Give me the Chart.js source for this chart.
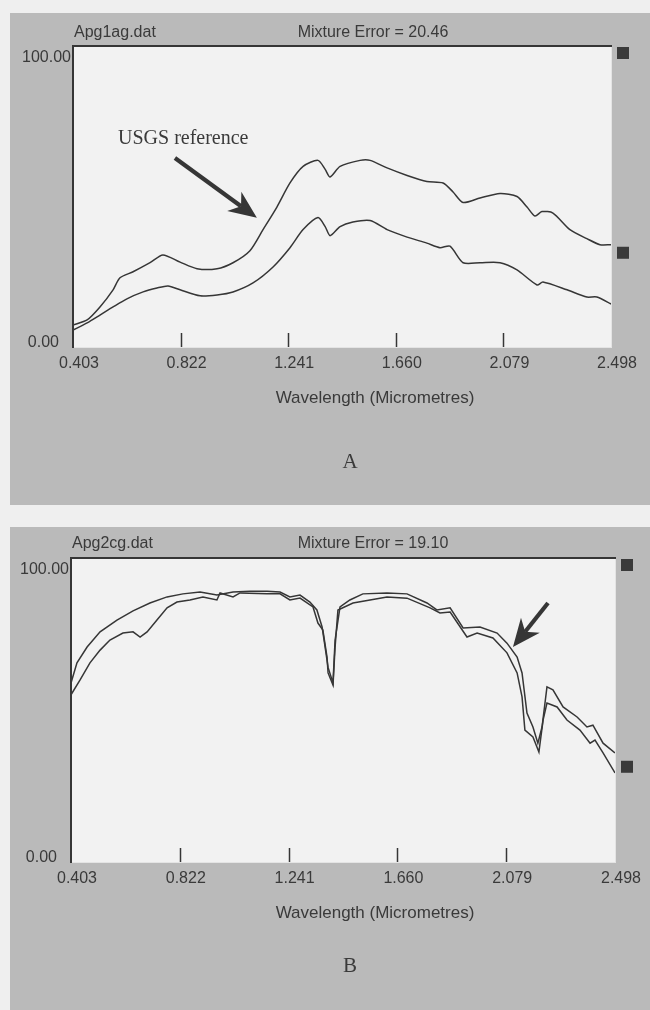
<!DOCTYPE html>
<html><head><meta charset="utf-8">
<script src="https://cdn.jsdelivr.net/npm/chart.js@4.4.1/dist/chart.umd.min.js"></script>
<style>
html,body{margin:0;padding:0;background:#efefef;width:650px;height:1010px;overflow:hidden;position:relative;}
.panel{position:absolute;left:10px;width:640px;background:#bababa;}
#pA{top:13px;height:492px;}
#pB{top:527px;height:483px;}
canvas{position:absolute;left:0;}
.t{position:absolute;font-family:"Liberation Sans",Arial,sans-serif;font-size:16px;color:#3a3a3a;white-space:nowrap;line-height:1;}
.c{transform:translateX(-50%);}
.serif{font-family:"Liberation Serif","Times New Roman",serif;}
</style></head>
<body>
<div class="panel" id="pA"></div>
<div class="panel" id="pB"></div>
<canvas id="cA" width="650" height="505" style="top:0"></canvas>
<canvas id="cB" width="650" height="483" style="top:527px"></canvas>

<div class="t" style="left:74px;top:24px;">Apg1ag.dat</div>
<div class="t c" style="left:373px;top:24px;">Mixture Error = 20.46</div>
<div class="t c" style="left:375px;top:389px;font-size:17px;">Wavelength (Micrometres)</div>
<div class="t c serif" style="left:350px;top:451px;font-size:21px;">A</div>
<div class="t serif" style="left:118px;top:127px;font-size:20px;">USGS reference</div>

<div class="t" style="left:72px;top:535px;">Apg2cg.dat</div>
<div class="t c" style="left:373px;top:535px;">Mixture Error = 19.10</div>
<div class="t c" style="left:375px;top:904px;font-size:17px;">Wavelength (Micrometres)</div>
<div class="t c serif" style="left:350px;top:955px;font-size:21px;">B</div>

<script>
// ---- Data ----
const xTicks = [0.403, 0.822, 1.241, 1.660, 2.079, 2.498];
const yTicks = [0, 100];

// Panel A: USGS reference spectrum
const aRefWl  = [0.403,0.458,0.508,0.559,0.586,0.637,0.703,0.753,0.820,0.886,0.964,1.026,1.092,1.143,1.197,1.248,1.299,1.357,1.385,1.404,1.443,1.521,1.560,1.626,1.704,1.781,1.844,1.883,1.922,1.988,2.066,2.132,2.171,2.202,2.229,2.272,2.338,2.404,2.455,2.498];
const aRefVal = [7.3,9,13.3,19,23,25,28,30.6,28.2,26,26,28,32,39,46.5,54.5,60,62,59,56.5,60,62,62,59.5,57,55,54.5,51.5,48,49.5,51,50,46.5,43.5,45,44.5,39,36,34,34];
// Panel A: mixture spectrum
const aMixWl  = [0.403,0.458,0.508,0.559,0.613,0.676,0.730,0.773,0.820,0.898,0.964,1.026,1.104,1.182,1.248,1.299,1.357,1.385,1.404,1.443,1.493,1.560,1.626,1.704,1.781,1.832,1.871,1.922,1.988,2.066,2.132,2.210,2.233,2.327,2.404,2.443,2.498];
const aMixVal = [5.6,8,10.6,13.3,16,18.3,19.6,20.3,19,17,17.3,18.3,21.3,26.6,33,39,43,40,37,40,41.5,42,39,36.5,34.5,33,33.5,28,28,28,25.6,20.6,21.6,19,16.6,16.6,14.3];

// Panel B: reference spectrum
const bRefWl  = [0.403,0.426,0.465,0.515,0.580,0.642,0.707,0.773,0.834,0.900,0.965,1.027,1.092,1.158,1.208,1.246,1.285,1.323,1.350,1.370,1.381,1.393,1.412,1.420,1.439,1.477,1.527,1.620,1.697,1.774,1.812,1.863,1.913,1.978,2.044,2.082,2.121,2.140,2.159,2.182,2.201,2.217,2.236,2.259,2.298,2.352,2.390,2.413,2.452,2.498];
const bRefVal = [58.9,65.5,70.7,75.7,79.6,82.6,85.2,87.2,88.2,88.8,87.8,88.8,89.1,89.1,88.8,87.2,87.8,85.5,82.9,77.3,71,64,58.9,73,83.9,86.2,88.2,88.5,88.2,85.2,82.9,83.6,77,77.3,75.3,72,67.4,62.2,49,44.4,39.1,44.4,57.6,56.6,51,47.7,44.4,45,39.1,35.9];
// Panel B: mixture spectrum
const bMixWl  = [0.403,0.438,0.476,0.515,0.553,0.603,0.642,0.669,0.696,0.734,0.773,0.811,0.861,0.911,0.965,0.977,1.027,1.054,1.158,1.208,1.246,1.285,1.335,1.354,1.373,1.389,1.393,1.412,1.420,1.431,1.489,1.620,1.697,1.786,1.824,1.863,1.928,1.967,2.028,2.082,2.121,2.140,2.151,2.182,2.205,2.221,2.236,2.275,2.313,2.363,2.402,2.421,2.452,2.498];
const bMixVal = [55,59.9,65.5,69.7,73,75.3,75.7,74,75.7,79.6,83.6,85.5,86.2,87.2,86.2,88.5,87.2,88.5,88.2,88.2,86.2,86.8,83.9,78.6,76.3,67.4,62.2,58.2,70.7,82.9,85.2,87.2,86.8,83.6,81.9,82.2,74,75.3,73.7,68.8,62.2,54.3,43.4,41.1,36.2,46.7,52.3,51,46.7,43.4,39.1,40.1,35.9,29.3];

// Annotation arrows in data units: [tailWl, tailVal, tipWl, tipVal]
const arrowA = [0.800, 62.8, 1.119, 42.9];
const arrowB = [2.240, 85.2, 2.105, 70.7];
const markerVals = [100, 33.3];

const pts = (xs, ys) => xs.map((x, i) => ({x, y: ys[i]}));
const INK = '#363636';
const FONT = '"Liberation Sans", Arial, sans-serif';

function drawArrow(ctx, x1, y1, x2, y2) {
  const ang = Math.atan2(y2 - y1, x2 - x1);
  const hl = 28, hw = 12;
  const cos = Math.cos(ang), sin = Math.sin(ang);
  const bx = x2 - hl * cos, by = y2 - hl * sin;
  const nx = x2 - hl * 0.7 * cos, ny = y2 - hl * 0.7 * sin;
  ctx.strokeStyle = INK; ctx.fillStyle = INK;
  ctx.lineWidth = 4.2; ctx.lineCap = 'butt';
  ctx.beginPath(); ctx.moveTo(x1, y1); ctx.lineTo(nx, ny); ctx.stroke();
  ctx.beginPath();
  ctx.moveTo(x2, y2);
  ctx.lineTo(bx + hw * sin, by - hw * cos);
  ctx.lineTo(nx, ny);
  ctx.lineTo(bx - hw * sin, by + hw * cos);
  ctx.closePath(); ctx.fill();
}

const deco = {
  id: 'deco',
  beforeDraw(chart) {
    const {ctx, chartArea: a} = chart;
    ctx.save();
    ctx.fillStyle = '#f2f2f2';
    ctx.fillRect(a.left, a.top, a.right - a.left, a.bottom - a.top);
    ctx.restore();
  },
  afterDraw(chart, args, opts) {
    const {ctx, chartArea: a} = chart;
    const xs = chart.scales.x, ys = chart.scales.y;
    ctx.save();
    // frame (sunken look)
    ctx.fillStyle = '#e4e4e4';
    ctx.fillRect(a.right, a.top, 1, a.bottom - a.top + 1);
    ctx.fillRect(a.left, a.bottom, a.right - a.left + 1, 1);
    ctx.fillStyle = INK;
    ctx.fillRect(a.left - 1, a.top - 1, a.right - a.left + 2, 2);
    ctx.fillRect(a.left - 1, a.top - 1, 2, a.bottom - a.top + 2);
    // inner tick marks
    ctx.strokeStyle = INK; ctx.lineWidth = 1.5;
    xTicks.slice(1, -1).forEach(v => {
      const px = Math.round(xs.getPixelForValue(v)) + 0.5;
      ctx.beginPath(); ctx.moveTo(px, a.bottom); ctx.lineTo(px, a.bottom - 14); ctx.stroke();
    });
    // y labels
    ctx.fillStyle = '#3a3a3a';
    ctx.font = '16px ' + FONT;
    ctx.textAlign = 'right'; ctx.textBaseline = 'middle';
    ctx.fillText(yTicks[1].toFixed(2), a.left - 2, ys.getPixelForValue(yTicks[1]) + 12);
    ctx.fillText(yTicks[0].toFixed(2), a.left - 14, ys.getPixelForValue(yTicks[0]) - 4);
    // right markers
    ctx.fillStyle = '#3a3a3a';
    markerVals.forEach((v, i) => {
      const py = ys.getPixelForValue(v) + (i === 0 ? 1 : 0);
      ctx.fillRect(a.right + 6, py, 12, 12);
    });
    // arrow
    const ar = opts.arrow;
    drawArrow(ctx, xs.getPixelForValue(ar[0]), ys.getPixelForValue(ar[1]),
                   xs.getPixelForValue(ar[2]), ys.getPixelForValue(ar[3]));
    ctx.restore();
  }
};

function makeChart(id, ref, mix, pad, arrow, tension) {
  const line = (d) => ({data: d, showLine: true, borderColor: INK, borderWidth: 1.5,
                        pointRadius: 0, fill: false, tension: tension});
  return new Chart(document.getElementById(id), {
    type: 'scatter',
    data: {datasets: [line(ref), line(mix)]},
    options: {
      responsive: false, animation: false, events: [],
      layout: {padding: pad},
      plugins: {legend: {display: false}, tooltip: {enabled: false}, deco: {arrow: arrow}},
      scales: {
        x: {
          type: 'linear', min: xTicks[0], max: xTicks[xTicks.length - 1],
          afterBuildTicks: s => { s.ticks = xTicks.map(v => ({value: v})); },
          afterFit: s => { s.height = 30; },
          grid: {display: false, drawTicks: false}, border: {display: false},
          ticks: {padding: 7, labelOffset: 6, color: '#3a3a3a', autoSkip: false, maxRotation: 0,
                  font: {family: FONT, size: 16}, callback: v => Number(v).toFixed(3)}
        },
        y: {
          min: yTicks[0], max: yTicks[1],
          afterBuildTicks: s => { s.ticks = yTicks.map(v => ({value: v})); },
          afterFit: s => { s.width = 40; },
          grid: {display: false, drawTicks: false}, border: {display: false},
          ticks: {display: false}
        }
      }
    },
    plugins: [deco]
  });
}

makeChart('cA', pts(aRefWl, aRefVal), pts(aMixWl, aMixVal),
          {left: 33, top: 46, right: 39, bottom: 128}, arrowA, 0.25);
makeChart('cB', pts(bRefWl, bRefVal), pts(bMixWl, bMixVal),
          {left: 31, top: 31, right: 35, bottom: 118}, arrowB, 0);
</script>
</body></html>
